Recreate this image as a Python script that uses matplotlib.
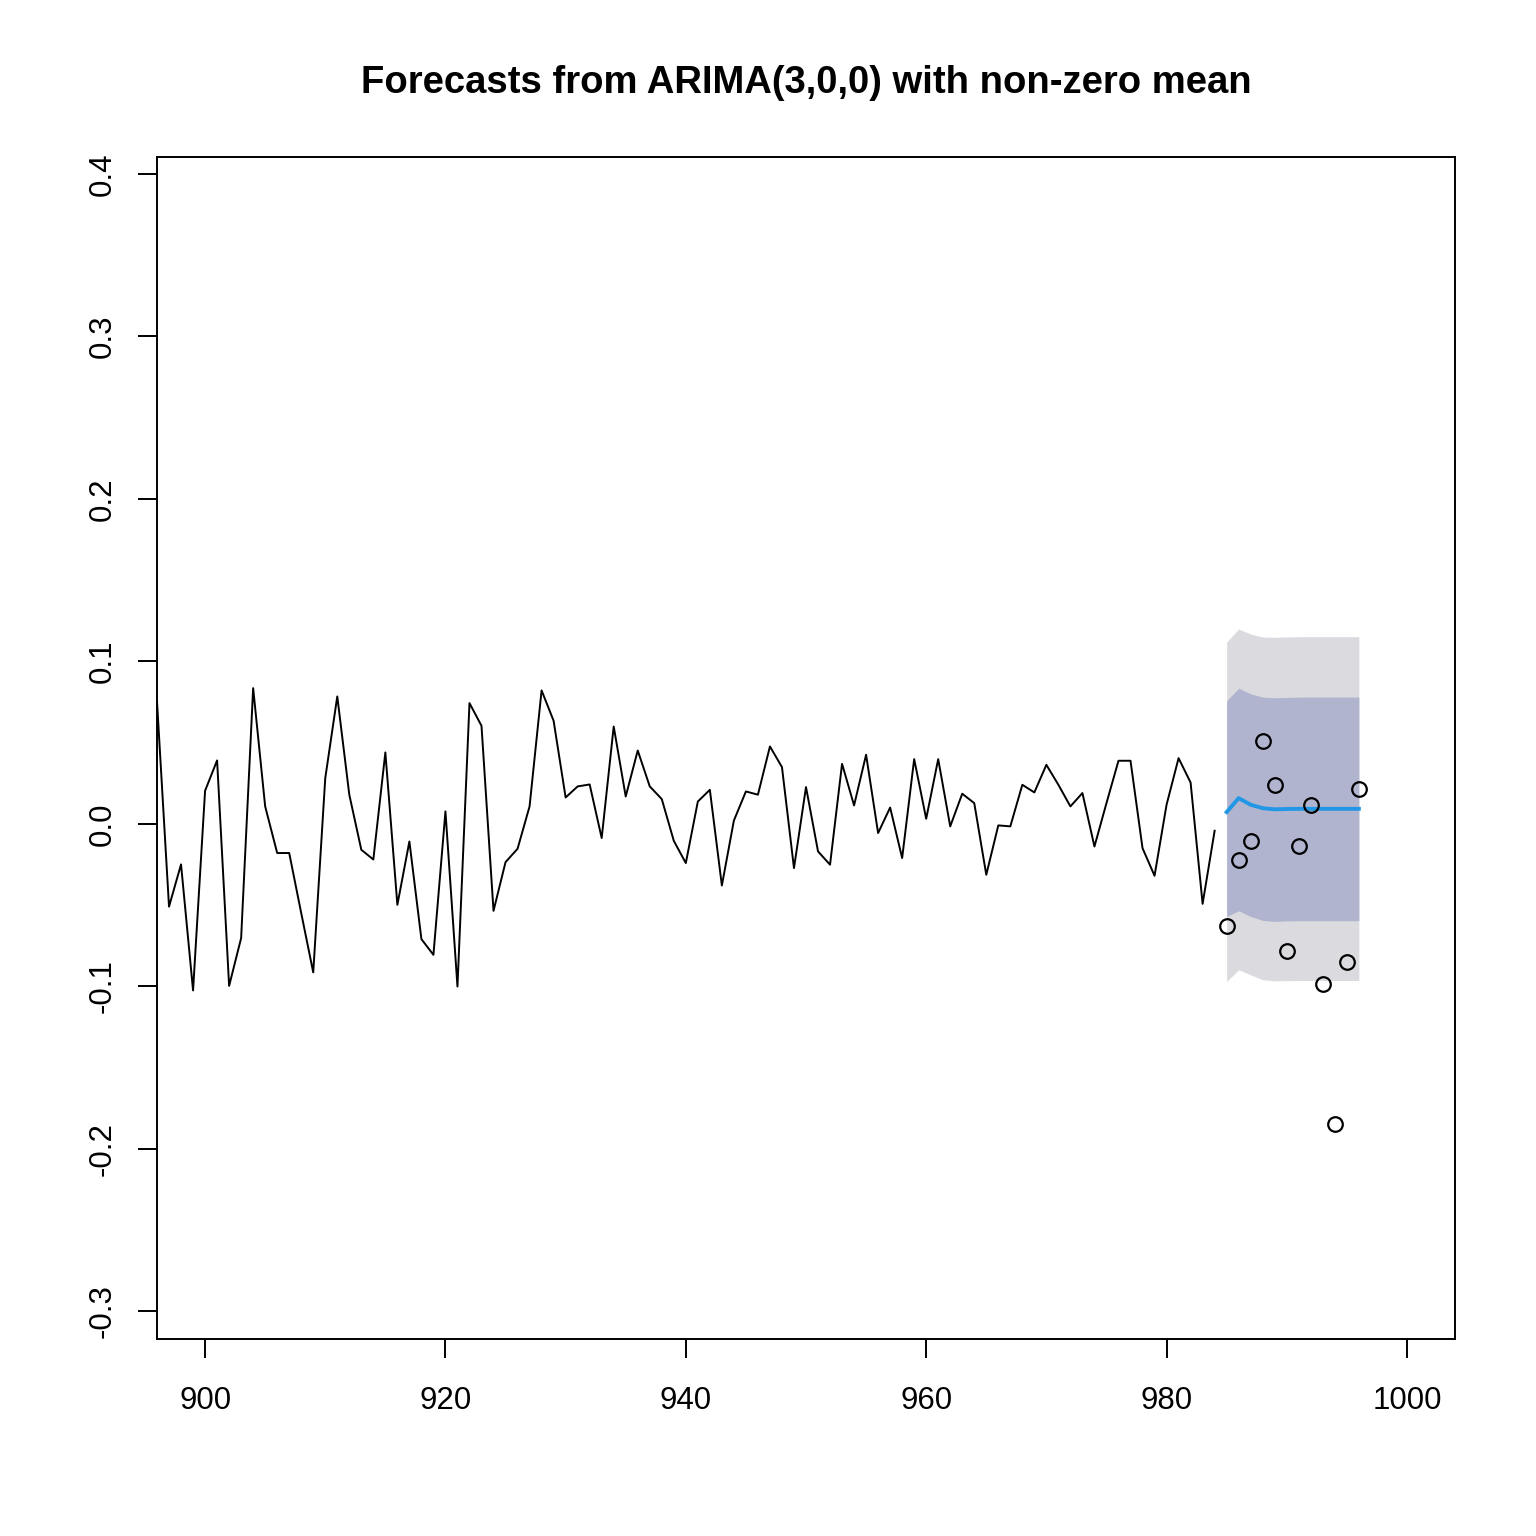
import matplotlib
matplotlib.use("Agg")
import matplotlib.pyplot as plt
import numpy as np

plt.rcParams['font.family'] = ['Liberation Sans', 'DejaVu Sans']

# Observed series (t = 896..984)
hist_start = 896
hist_vals = [0.0753, -0.051, -0.025, -0.1026, 0.0203, 0.039, -0.0998, -0.0704, 0.0835, 0.0107,
             -0.018, -0.018, -0.055, -0.0915, 0.0281, 0.0784, 0.0179, -0.016, -0.022, 0.0439,
             -0.0499, -0.0109, -0.071, -0.0807, 0.0076, -0.1002, 0.0743, 0.0603, -0.0536, -0.0236,
             -0.0154, 0.0107, 0.0821, 0.0634, 0.0162, 0.023, 0.0242, -0.0088, 0.0599, 0.0168,
             0.0451, 0.023, 0.0152, -0.0105, -0.0242, 0.0137, 0.0209, -0.038, 0.002, 0.0199,
             0.0179, 0.0476, 0.0349, -0.0273, 0.0226, -0.017, -0.0252, 0.0369, 0.0113, 0.0425,
             -0.0057, 0.010, -0.0211, 0.0398, 0.0031, 0.0398, -0.0016, 0.0185, 0.0127, -0.0314,
             -0.001, -0.0016, 0.024, 0.0193, 0.0363, 0.024, 0.0107, 0.0189, -0.014, 0.0127,
             0.0388, 0.0388, -0.015, -0.032, 0.0117, 0.0404, 0.0254, -0.0493, -0.0043]

# Forecast horizon (t = 985..996)
fc_start = 985
fc_mean = [0.0072, 0.0158, 0.0117, 0.0096, 0.0089, 0.0091, 0.0092, 0.0092, 0.0092, 0.0092, 0.0092, 0.0092]
lo80 = [-0.0571, -0.0536, -0.0571, -0.0595, -0.0601, -0.0598, -0.0597, -0.0597, -0.0597, -0.0597, -0.0597, -0.0597]
hi80 = [0.0757, 0.0835, 0.0800, 0.0780, 0.0776, 0.0778, 0.0780, 0.0780, 0.0780, 0.0780, 0.0780, 0.0780]
lo95 = [-0.0971, -0.0899, -0.0930, -0.0960, -0.0967, -0.0966, -0.0965, -0.0965, -0.0965, -0.0965, -0.0965, -0.0965]
hi95 = [0.1119, 0.1199, 0.1168, 0.1150, 0.1148, 0.1150, 0.1152, 0.1152, 0.1152, 0.1152, 0.1152, 0.1152]

# Held-out actual values (points)
test_vals = [-0.0628, -0.0222, -0.0103, 0.0511, 0.0236, -0.0786, -0.0135, 0.0113, -0.0985, -0.185, -0.0854, 0.0215]

xticks = [900, 920, 940, 960, 980, 1000]
yticks = [-0.3, -0.2, -0.1, 0.0, 0.1, 0.2, 0.3, 0.4]
ytick_labels = ["-0.3", "-0.2", "-0.1", "0.0", "0.1", "0.2", "0.3", "0.4"]

t_hist = np.arange(hist_start, hist_start + len(hist_vals))
t_fc = np.arange(fc_start, fc_start + len(fc_mean))

fig = plt.figure(figsize=(15.36, 15.36), dpi=100)
ax = fig.add_axes([157/1536, 1 - 1339/1536, (1455 - 157)/1536, (1339 - 157)/1536])

ax.fill_between(t_fc, lo95, hi95, color="#DBDBDF", linewidth=0, zorder=1)
ax.fill_between(t_fc, lo80, hi80, color="#B0B4CE", linewidth=0, zorder=2)
ax.plot(t_fc, fc_mean, color="#2297E6", linewidth=2.8, zorder=3)
ax.plot(t_hist, hist_vals, color="black", linewidth=1.4, zorder=4)
ax.plot(t_fc, test_vals, linestyle="none", marker="o", markersize=10.5,
        markerfacecolor="none", markeredgecolor="black", markeredgewidth=1.6, zorder=5)

ax.set_xlim(896.0, 1004.0)
ax.set_ylim(-0.3172, 0.4105)
ax.set_xticks(xticks)
ax.set_xticklabels([str(v) for v in xticks])
ax.set_yticks(yticks)
ax.set_yticklabels(ytick_labels, rotation=90, va="center")

for s in ax.spines.values():
    s.set_linewidth(1.4)
    s.set_color("black")
ax.tick_params(axis="both", length=13.5, width=1.4, labelsize=22.5, colors="black")
ax.tick_params(axis="x", pad=20)
ax.tick_params(axis="y", pad=15)

fig.text(806/1536, 1 - 93/1536, "Forecasts from ARIMA(3,0,0) with non-zero mean",
         ha="center", va="baseline", fontsize=27.5, fontweight="bold")

fig.savefig("out.png", dpi=100, facecolor="white")
